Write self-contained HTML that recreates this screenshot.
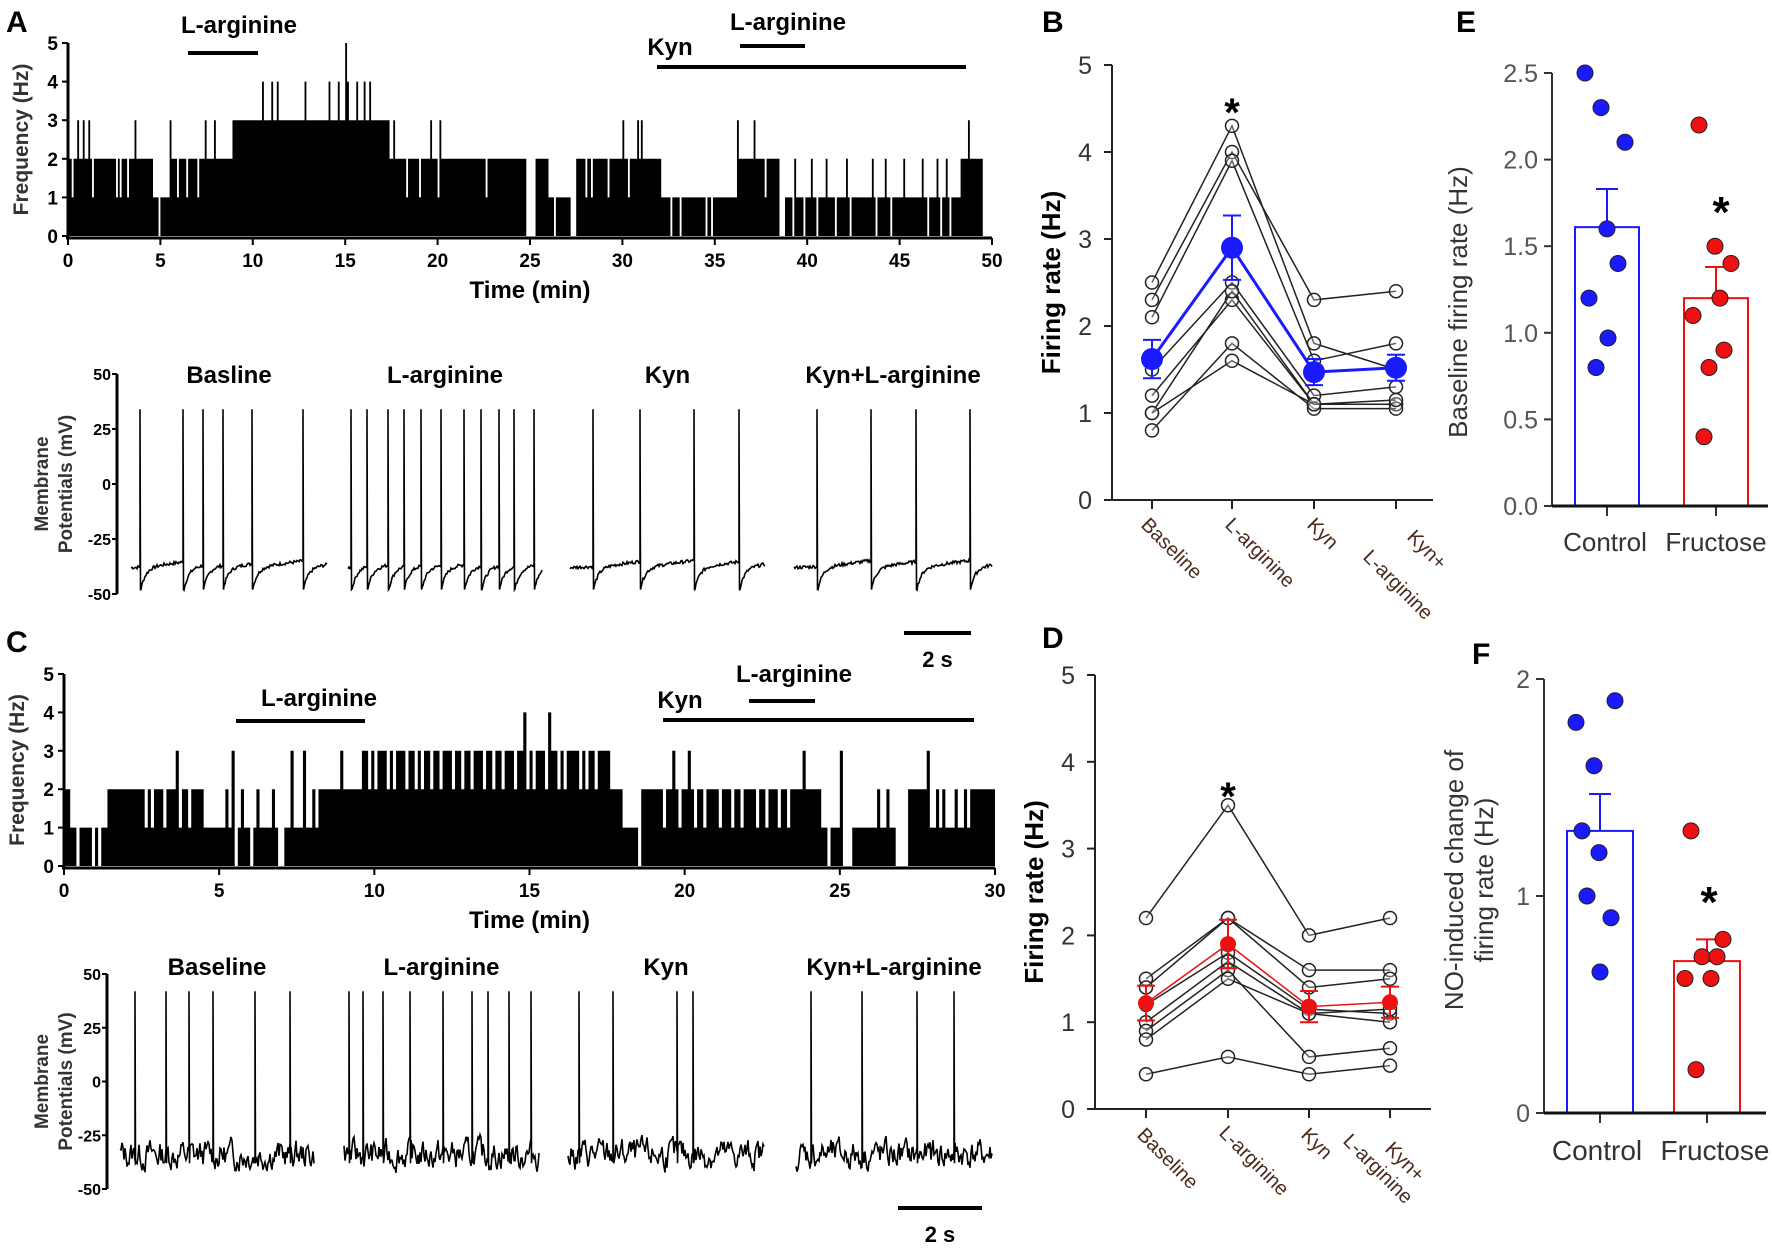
<!DOCTYPE html>
<html><head><meta charset="utf-8"><style>
html,body{margin:0;padding:0;background:#fff;}
svg{display:block;}
.n{font-family:"Liberation Sans Narrow","Liberation Sans",sans-serif;font-weight:bold;}
.r{font-family:"Liberation Sans",sans-serif;}
</style></head><body>
<svg id="fig" width="1772" height="1248" viewBox="0 0 1772 1248" xmlns="http://www.w3.org/2000/svg">
<g id="static">
<text class="n" x="6" y="32" font-size="30">A</text>
<text class="n" x="6" y="652" font-size="30">C</text>
<text class="r" x="1042" y="32" font-size="30" font-weight="bold">B</text>
<text class="r" x="1456" y="32" font-size="30" font-weight="bold">E</text>
<text class="r" x="1042" y="648" font-size="30" font-weight="bold">D</text>
<text class="r" x="1472" y="664" font-size="30" font-weight="bold">F</text>
</g>
<g id="dyn"></g>
</svg>
<script>
// ---------- DATA ----------
const histATicks=[0,5,10,15,20,25,30,35,40,45,50];
const histALevels=[[0,4.6,2],[4.6,5.5,1],[5.5,8.9,2],[8.9,17.4,3],[17.4,24.8,2],[24.8,25.3,0],[25.3,26.0,2],[26.0,27.2,1],[27.2,27.5,0],[27.5,32.1,2],[32.1,36.2,1],[36.2,38.5,2],[38.5,38.8,0],[38.8,48.3,1],[48.3,49.5,2]];
const histAUps=[[0.5,3],[0.8,3],[1.2,3],[3.6,3],[5.5,3],[7.4,3],[7.9,3],[10.6,4],[11,4],[11.3,4],[12.8,4],[14.2,4],[14.6,4],[15,5],[15.2,4],[15.6,4],[16,4],[16.3,4],[17.6,3],[19.6,3],[20.2,3],[27.8,2],[28.2,2],[30,3],[30.8,3],[31,3],[33.3,1],[33.8,1],[34.3,1],[36.2,3],[37.1,3],[39.4,2],[40.2,2],[41,2],[42.1,2],[43.5,2],[44.3,2],[45.3,2],[46.2,2],[47,2],[47.5,2],[48.7,3]];
const histADips=[0.2,1.4,2.6,2.9,3.3,4.9,5.9,6.4,7,18.4,19,20,22.7,26.3,28,28.4,29.2,30.3,32.6,33.1,34.5,34.9,37.8,39.3,39.9,40.5,41.5,42.4,43.8,44.5,45.2,46.5,47.2,47.8];
const histCTicks=[0,5,10,15,20,25,30];
const histCLevels=[[0,0.2,2],[0.2,1.4,1],[1.4,4.6,2],[4.6,8.0,1],[8.0,9.6,2],[9.6,17.6,3],[17.6,18.0,2],[18.0,18.6,1],[18.6,24.4,2],[24.4,25,1],[25,25.4,0],[25.4,26.8,1],[26.8,27.2,0],[27.2,27.8,2],[27.8,29.2,1],[29.2,30,2]];
const histCUps=[[3.6,3],[5.4,3],[5.2,2],[5.8,2],[6.3,2],[6.7,2],[7.3,3],[7.7,3],[8.9,3],[14.8,4],[15.6,4],[16.4,3],[17.9,2],[19.6,3],[20.1,3],[23.8,3],[25,3],[26.2,2],[26.5,2],[27.8,3],[28.1,2],[28.4,2],[28.7,2],[29,2]];
const histCDips=[0.4,0.9,1.2,2.6,2.9,3.2,3.8,4.1,4.5,5.6,6.1,6.9,7.1,7.3,8.2,9.8,10.1,10.4,10.7,11,11.3,11.5,11.8,12.2,12.5,12.8,13.1,13.5,13.8,14.2,14.5,14.9,15.2,15.5,15.9,16.2,16.6,16.9,17.2,18.5,19.3,19.8,20.4,20.7,21.1,21.5,21.8,22.3,22.6,23,23.4,23.9,24.6];
// traces: spike times in seconds (panel 10 s windows)
const traceATitles=["Basline","L-arginine","Kyn","Kyn+L-arginine"];
const traceASpikes=[[0.5,2.7,3.7,4.7,6.2,8.8],[0.2,1.0,2.1,2.9,3.8,4.8,6.0,6.9,7.8,8.6,9.6],[1.2,3.6,6.4,8.7],[1.2,3.9,6.2,8.9]];
const traceCTitles=["Baseline","L-arginine","Kyn","Kyn+L-arginine"];
const traceCSpikes=[[0.8,2.4,3.6,4.8,7.0,8.8],[0.3,1.0,2.0,3.4,5.1,6.6,7.4,8.5,9.6],[0.6,2.3,5.6,6.4],[0.8,3.4,6.2,8.1]];
// panel B
const catLabels=["Baseline","L-arginine","Kyn","Kyn+L-arginine"];
const bSeries=[[2.5,4.3,1.8,1.5],[2.3,4.0,2.3,2.4],[2.1,3.9,1.6,1.8],[1.5,2.5,1.2,1.3],[1.2,2.3,1.1,1.1],[1.0,2.4,1.1,1.1],[0.8,1.8,1.05,1.05],[1.0,1.6,1.1,1.15]];
const bMean=[1.62,2.9,1.47,1.52];
const bErr=[0.22,0.37,0.15,0.15];
// panel D
const dSeries=[[2.2,3.5,2.0,2.2],[1.5,2.2,1.6,1.6],[1.4,2.2,1.4,1.5],[1.2,1.8,1.15,1.1],[1.0,1.7,1.1,1.0],[0.9,1.6,0.6,0.7],[0.8,1.5,1.1,1.15],[0.4,0.6,0.4,0.5]];
const dMean=[1.22,1.9,1.18,1.23];
const dErr=[0.2,0.28,0.18,0.18];
// panel E
const eGroups=["Control","Fructose"];
const eControl=[2.5,2.3,2.1,1.6,1.4,1.2,0.97,0.8];
const eFructose=[2.2,1.5,1.4,1.2,1.1,0.9,0.8,0.4];
const eMean=[1.61,1.2];
const eErr=[0.22,0.18];
const eTicks=[0,0.5,1,1.5,2,2.5];
// panel F
const fControl=[1.9,1.8,1.6,1.3,1.2,1.0,0.9,0.65];
const fFructose=[1.3,0.8,0.72,0.72,0.62,0.62,0.2];
const fMean=[1.3,0.7];
const fErr=[0.17,0.1];
const fTicks=[0,1,2];

// ---------- HELPERS ----------
const NS="http://www.w3.org/2000/svg";
const root=document.getElementById('dyn');
function mk(tag,attrs,parent){const e=document.createElementNS(NS,tag);for(const k in attrs)e.setAttribute(k,attrs[k]);(parent||root).appendChild(e);return e;}
function txt(s,attrs,parent){const e=mk('text',attrs,parent);e.textContent=s;return e;}

// ---------- HISTOGRAMS ----------
function hist(o){
  const g=mk('g',{});
  
  
  const xs=v=>o.x0+(v/o.tmax)*(o.x1-o.x0), ys=v=>o.y0-(v/5)*(o.y0-o.y5);
  const bw=0.1, n=Math.round(o.tend/bw); const vals=[];
  for(let i=0;i<n;i++){const t=i*bw+bw/2;let v=0;for(const s of o.levels)if(t>=s[0]&&t<s[1])v=s[2];vals.push(v);}
  for(const d of o.dips){const i=Math.floor(d/bw);if(i<n)vals[i]=Math.max(0,vals[i]-1);}
  for(const u of o.ups){const i=Math.floor(u[0]/bw);if(i<n)vals[i]=Math.max(vals[i],u[1]);}
  let p=`M${xs(0)},${ys(0)}`;
  for(let i=0;i<n;i++){p+=`L${xs(i*bw)},${ys(vals[i])}L${xs((i+1)*bw)},${ys(vals[i])}`;}
  p+=`L${xs(n*bw)},${ys(0)}Z`;
  const bars=mk('path',{d:p,fill:'#000'},g);
  
  
  mk('line',{x1:o.x0,y1:o.y5,x2:o.x0,y2:o.y0+2,stroke:'#000','stroke-width':3},g);
  mk('line',{x1:o.x0-2,y1:o.y0+2,x2:o.x1,y2:o.y0+2,stroke:'#000','stroke-width':3},g);
  for(let v=0;v<=5;v++){mk('line',{x1:o.x0-6,y1:ys(v),x2:o.x0,y2:ys(v),stroke:'#000','stroke-width':2},g);
    txt(String(v),{x:o.x0-10,y:ys(v)+7,'text-anchor':'end','font-size':19,class:'n'},g);}
  for(const t of o.ticks){mk('line',{x1:xs(t),y1:o.y0+2,x2:xs(t),y2:o.y0+9,stroke:'#000','stroke-width':2},g);
    txt(String(t),{x:xs(t),y:o.y0+31,'text-anchor':'middle','font-size':19,class:'n'},g);}
  const xt=txt('Time (min)',{x:(o.x0+o.x1)/2,y:o.y0+62,'text-anchor':'middle','font-size':24,class:'n'},g);
  
  const yt=txt('Frequency (Hz)',{x:0,y:0,'text-anchor':'middle','font-size':21,class:'n',fill:'#333',transform:`translate(${o.x0-40},${(o.y0+o.y5)/2}) rotate(-90)`},g);
  
  for(const b of o.bars){mk('line',{x1:b[0],y1:b[1],x2:b[2],y2:b[1],stroke:'#000','stroke-width':4},g);
    const l=txt(b[3],{x:b[4],y:b[5],'text-anchor':'middle','font-size':24,class:'n'},g);
    }
}
hist({name:'histogram-a',x0:68,x1:992,tmax:50,tend:49.5,y0:236,y5:43,levels:histALevels,ups:histAUps,dips:histADips,ticks:histATicks,
  bars:[[188,53,258,'L-arginine',239,33],[657,67,966,'Kyn',670,55],[740,46,805,'L-arginine',788,30]]});
hist({name:'histogram-c',x0:64,x1:995,tmax:30,tend:30,y0:866,y5:674,levels:histCLevels,ups:histCUps,dips:histCDips,ticks:histCTicks,
  bars:[[236,721,365,'L-arginine',319,706],[663,720,974,'Kyn',680,708],[749,701,815,'L-arginine',794,682]]});

// ---------- TRACES ----------
function traces(o){
  const g=mk('g',{});
  
  
  const yv=v=>o.y50+(50-v)/100*(o.ym50-o.y50);
  mk('line',{x1:o.ax,y1:o.y50,x2:o.ax,y2:o.ym50,stroke:'#000','stroke-width':3},g);
  [50,25,0,-25,-50].forEach(v=>{mk('line',{x1:o.ax-5,y1:yv(v),x2:o.ax,y2:yv(v),stroke:'#000','stroke-width':2},g);
    txt(String(v),{x:o.ax-6,y:yv(v)+6,'text-anchor':'end','font-size':16,class:'n'},g);});
  const yt=txt('Membrane',{x:0,y:0,'text-anchor':'middle','font-size':19,class:'r','font-weight':'bold',fill:'#333',transform:`translate(${o.tx[0]},${(o.y50+o.ym50)/2}) rotate(-90)`},g);
  
  txt('Potentials (mV)',{x:0,y:0,'text-anchor':'middle','font-size':19,class:'r','font-weight':'bold',fill:'#333',transform:`translate(${o.tx[1]},${(o.y50+o.ym50)/2}) rotate(-90)`},g);
  let seed=o.seed;const rnd=()=>{seed=(seed*9301+49297)%233280;return seed/233280;};
  o.segs.forEach((s,si)=>{
    const sp=o.spikes[si].map(t=>s[0]+t/10*(s[1]-s[0]));
    let p='',noise=0;
    for(let x=s[0];x<=s[1];x+=1){
      let last=-1e9;for(const t of sp)if(t<=x)last=t;
      const dt=x-last;let v;
      if(o.smooth){v=dt>1e8?-38+0.02*(x-s[0]):Math.min(-33,-48+10*(1-Math.exp(-dt/5))+0.06*dt);v+=(rnd()-0.5)*1.5;}
      else{noise=noise*0.55+(rnd()-0.5)*11;v=-34+noise;}
      p+=(p?'L':'M')+x+','+yv(v).toFixed(1);
      for(const t of sp)if(t>=x&&t<x+1){p+='L'+x+','+yv(o.peak);p+='L'+(x+0.5)+','+yv(o.smooth?-48:-38);}
    }
    const tr=mk('path',{d:p,fill:'none',stroke:'#000','stroke-width':1.6},g);
    
    const l=txt(o.titles[si],{x:(s[0]+s[1])/2,y:o.ty,'text-anchor':'middle','font-size':24,class:'n'},g);
    
  });
  mk('line',{x1:o.sb[0],y1:o.sb[2],x2:o.sb[1],y2:o.sb[2],stroke:'#000','stroke-width':4},g);
  const sl=txt('2 s',{x:(o.sb[0]+o.sb[1])/2,y:o.sb[3],'text-anchor':'middle','font-size':22,class:'n'},g);
  
}
traces({name:'traces-a',ax:117,tx:[48,72],y50:374,ym50:594,segs:[[131,327],[348,542],[570,765],[794,992]],spikes:traceASpikes,titles:traceATitles,ty:383,smooth:true,peak:34,seed:7,sb:[904,971,633,667]});
traces({name:'traces-c',ax:107,tx:[48,72],y50:974,ym50:1189,segs:[[120,314],[344,539],[568,764],[796,992]],spikes:traceCSpikes,titles:traceCTitles,ty:975,smooth:false,peak:42,seed:13,sb:[898,982,1208,1242]});

// ---------- LINE PANELS ----------
function linePanel(o){
  const g=mk('g',{});
  
  
  const ys=v=>o.y0-(v/5)*(o.y0-o.y5), xs=i=>o.cx[i];
  mk('line',{x1:o.ax,y1:o.y5,x2:o.ax,y2:o.y0,stroke:'#222','stroke-width':2},g);
  mk('line',{x1:o.ax-8,y1:o.y0,x2:o.xe,y2:o.y0,stroke:'#222','stroke-width':2},g);
  for(let v=0;v<=5;v++){mk('line',{x1:o.ax-8,y1:ys(v),x2:o.ax,y2:ys(v),stroke:'#222','stroke-width':2},g);
    txt(String(v),{x:o.ax-20,y:ys(v)+9,'text-anchor':'end','font-size':25,class:'r',fill:'#333'},g);}
  o.cx.forEach(x=>mk('line',{x1:x,y1:o.y0,x2:x,y2:o.y0+9,stroke:'#222','stroke-width':2},g));
  const yt=txt('Firing rate (Hz)',{x:0,y:0,'text-anchor':'middle','font-size':26,class:'r','font-weight':'bold',transform:`translate(${o.ax-52},${(o.y0+o.y5)/2}) rotate(-90)`},g);
  
  o.series.forEach(s=>{
    const pl=mk('polyline',{points:s.map((v,i)=>xs(i)+','+ys(v)).join(' '),fill:'none',stroke:'#222','stroke-width':1.5},g);
    
    s.forEach((v,i)=>{const c=mk('circle',{cx:xs(i),cy:ys(v),r:6.5,fill:'#fff','fill-opacity':0.3,stroke:'#222','stroke-width':1.5},g);
      });
  });
  const ml=mk('polyline',{points:o.mean.map((v,i)=>xs(i)+','+ys(v)).join(' '),fill:'none',stroke:o.col,'stroke-width':o.mw},g);
  
  o.mean.forEach((v,i)=>{
    mk('line',{x1:xs(i),y1:ys(v-o.err[i]),x2:xs(i),y2:ys(v+o.err[i]),stroke:o.col,'stroke-width':2},g);
    mk('line',{x1:xs(i)-9,y1:ys(v-o.err[i]),x2:xs(i)+9,y2:ys(v-o.err[i]),stroke:o.col,'stroke-width':2},g);
    mk('line',{x1:xs(i)-9,y1:ys(v+o.err[i]),x2:xs(i)+9,y2:ys(v+o.err[i]),stroke:o.col,'stroke-width':2},g);
    const c=mk('circle',{cx:xs(i),cy:ys(v),r:o.mr,fill:o.col},g);
    
  });
  txt('*',{x:xs(1),y:ys(o.star)+22,'text-anchor':'middle','font-size':40,class:'r','font-weight':'bold'},g);
  o.lab.forEach(l=>{const t=txt(l[0],{x:0,y:0,'font-size':20,class:'r',fill:'#4a2a1a',transform:`translate(${l[1]},${l[2]}) rotate(45)`},g);
    });
}
linePanel({name:'panel-b-chart',ax:1112,xe:1433,y0:500,y5:65,cx:[1152,1232,1314,1396],series:bSeries,mean:bMean,err:bErr,col:'#1a1aff',mw:3,mr:11,star:4.55,
  lab:[['Baseline',1140,526],['L-arginine',1224,526],['Kyn',1306,526],['Kyn+',1406,538],['L-arginine',1362,558]]});
linePanel({name:'panel-d-chart',ax:1095,xe:1431,y0:1109,y5:675,cx:[1146,1228,1309,1390],series:dSeries,mean:dMean,err:dErr,col:'#ee1111',mw:1.5,mr:8,star:3.7,
  lab:[['Baseline',1136,1136],['L-arginine',1218,1134],['Kyn',1300,1136],['L-arginine',1342,1142],['Kyn+',1384,1150]]});

// ---------- BAR PANELS ----------
function barPanel(o){
  const g=mk('g',{});
  
  
  const ys=v=>o.y0-(v/o.ymax)*(o.y0-o.ytop);
  mk('line',{x1:o.ax,y1:o.ytop,x2:o.ax,y2:o.y0,stroke:'#333','stroke-width':2},g);
  o.ticks.forEach(t=>{mk('line',{x1:o.ax-8,y1:ys(t),x2:o.ax,y2:ys(t),stroke:'#333','stroke-width':2},g);
    txt(o.fmt(t),{x:o.ax-14,y:ys(t)+9,'text-anchor':'end','font-size':25,class:'r',fill:'#555'},g);});
  const cols=['#1a1aff','#ee1111'];
  [o.ctrl,o.fru].forEach((pts,k)=>{
    const cx=o.cx[k];
    const b=mk('rect',{x:cx-o.bw/2,y:ys(o.mean[k]),width:o.bw,height:o.y0-ys(o.mean[k]),fill:'none',stroke:cols[k],'stroke-width':2},g);
    
    mk('line',{x1:cx,y1:ys(o.mean[k]),x2:cx,y2:ys(o.mean[k]+o.err[k]),stroke:cols[k],'stroke-width':2},g);
    mk('line',{x1:cx-11,y1:ys(o.mean[k]+o.err[k]),x2:cx+11,y2:ys(o.mean[k]+o.err[k]),stroke:cols[k],'stroke-width':2},g);
    pts.forEach((v,i)=>{const c=mk('circle',{cx:cx+o.off[k][i],cy:ys(v),r:8,fill:cols[k],stroke:'#222','stroke-width':1},g);
      });
    mk('line',{x1:cx,y1:o.y0,x2:cx,y2:o.y0+10,stroke:'#333','stroke-width':2},g);
    const l=txt(eGroups[k],{x:cx+o.lo[k],y:o.ly,'text-anchor':'middle','font-size':o.lf,class:'r',fill:'#333'},g);
    
  });
  mk('line',{x1:o.ax,y1:o.y0,x2:o.xe,y2:o.y0,stroke:'#111','stroke-width':3},g);
  txt('*',{x:o.star[0],y:o.star[1]+22,'text-anchor':'middle','font-size':44,class:'r','font-weight':'bold'},g);
  o.ytl.forEach((s,i)=>{const t=txt(s,{x:0,y:0,'text-anchor':'middle','font-size':26,class:'r',fill:'#333',transform:`translate(${o.ytx[i]},${o.yty}) rotate(-90)`},g);
    });
}
barPanel({name:'panel-e-chart',ax:1552,xe:1768,y0:506,ytop:73,ymax:2.5,ticks:eTicks,fmt:t=>t.toFixed(1),cx:[1607,1716],bw:64,
  ctrl:eControl,fru:eFructose,mean:eMean,err:eErr,off:[[-22,-6,18,0,11,-18,1,-11],[-17,-1,15,4,-23,8,-7,-12]],
  lo:[-2,0],lf:26,ly:551,star:[1721,205],ytl:['Baseline firing rate (Hz)'],ytx:[1467],yty:302});
barPanel({name:'panel-f-chart',ax:1544,xe:1766,y0:1113,ytop:679,ymax:2,ticks:fTicks,fmt:t=>String(t),cx:[1600,1707],bw:66,
  ctrl:fControl,fru:fFructose,mean:fMean,err:fErr,off:[[15,-24,-6,-18,-1,-13,11,0],[-16,16,-5,10,-22,4,-11]],
  lo:[-3,8],lf:28,ly:1160,star:[1709,895],ytl:['NO-induced change of','firing rate (Hz)'],ytx:[1463,1493],yty:880});
</script>
</body></html>
